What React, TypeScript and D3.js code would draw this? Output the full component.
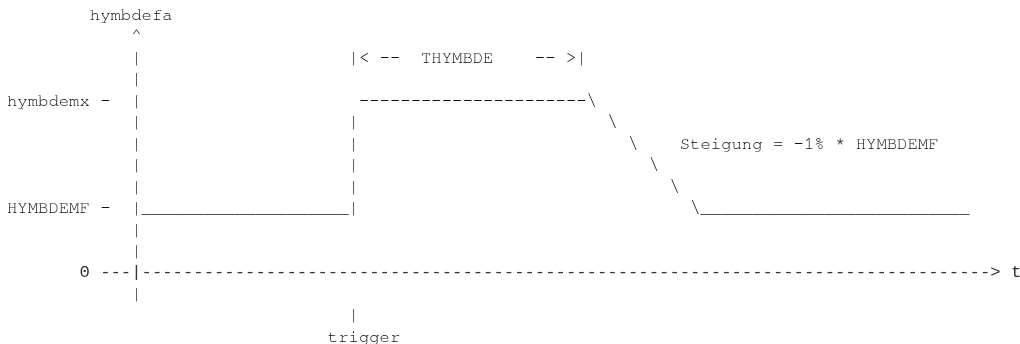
import * as d3 from "d3";
import React from "react";

// ascii drawing, one string per text row; built from [column, text] pieces
const line = (...parts: [number, string][]) => {
  let s = "";
  for (const [c, t] of parts) s = s.padEnd(c, " ") + t;
  return s;
};

const yAxisLabel = "hymbdefa";
const xAxisLabel = "t";
const levelLabels = ["hymbdemx", "HYMBDEMF", "0"];
const spanLabel = "THYMBDE";
const slopeLabel = "Steigung = -1% * HYMBDEMF";
const triggerLabel = "trigger";

const rows: string[] = [
  line([8, yAxisLabel]),
  line([12, "^"]),
  line([12, "|"], [33, "|< --"], [40, spanLabel], [51, "-- >|"]),
  line([12, "|"]),
  line([0, levelLabels[0] + " -"], [12, "|"], [34, "-".repeat(22) + "\\"]),
  line([12, "|"], [33, "|"], [58, "\\"]),
  line([12, "|"], [33, "|"], [60, "\\"], [65, slopeLabel]),
  line([12, "|"], [33, "|"], [62, "\\"]),
  line([12, "|"], [33, "|"], [64, "\\"]),
  line([0, levelLabels[1] + " -"], [12, "|" + "_".repeat(20) + "|"], [66, "\\" + "_".repeat(26)]),
  line([12, "|"]),
  line([12, "|"]),
  line([7, levelLabels[2] + " ---|" + "-".repeat(82) + "> " + xAxisLabel]),
  line([12, "|"]),
  line([33, "|"]),
  line([31, triggerLabel]),
];

// row 12 (zero line) is printed in a sans mono in the original
const sansRows = [12];

const W = 1020;
const H = 344;

const App = () => {
  const x = d3.scaleLinear().domain([0, 1]).range([7, 17.35]);
  const y = d3.scaleLinear().domain([0, 1]).range([20, 41.45]);

  const glyphs: { r: number; c: number; ch: string }[] = [];
  rows.forEach((s, r) => {
    Array.from(s).forEach((ch, c) => {
      if (ch !== " ") glyphs.push({ r, c, ch });
    });
  });

  return (
    <svg
      width={W}
      height={H}
      style={{ position: "absolute", left: 0, top: 0, background: "#fff", filter: "grayscale(1)" }}
    >
      {glyphs.map((g, i) => {
        const sans = sansRows.includes(g.r);
        return (
          <text
            key={i}
            x={x(g.c + 0.5)}
            y={y(g.r)}
            textAnchor="middle"
            fontSize={17.25}
            fill={sans ? "#333" : "#111"}
            fontFamily={
              sans
                ? "'Liberation Mono', 'DejaVu Sans Mono', monospace"
                : "'Nimbus Mono PS', 'Nimbus Mono L', FreeMono, 'Courier New', Courier, 'Liberation Mono', monospace"
            }
          >
            {g.ch}
          </text>
        );
      })}
    </svg>
  );
};

export default App;
